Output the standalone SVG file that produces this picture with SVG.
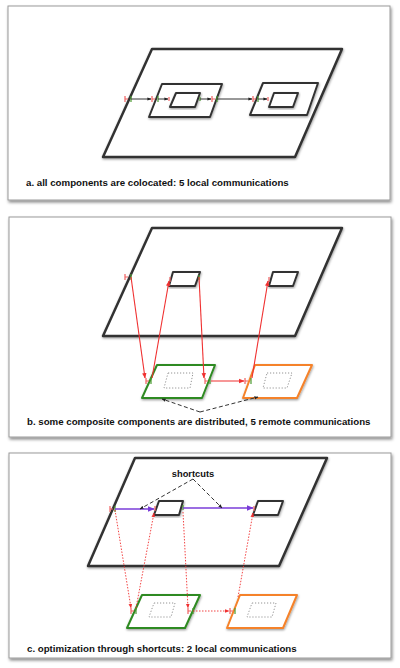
<svg xmlns="http://www.w3.org/2000/svg" width="400" height="668" viewBox="0 0 400 668">
<defs>
<filter id="fs" x="-5%" y="-5%" width="110%" height="115%"><feDropShadow dx="1" dy="2" stdDeviation="1.5" flood-color="#000" flood-opacity="0.45"/></filter>
<filter id="ss" x="-10%" y="-10%" width="120%" height="130%"><feDropShadow dx="0.5" dy="1.2" stdDeviation="1" flood-color="#000" flood-opacity="0.4"/></filter>
<marker id="ab" viewBox="0 0 10 10" refX="9" refY="5" markerWidth="4" markerHeight="4" orient="auto"><path d="M0,1 L10,5 L0,9 Z" fill="#222"/></marker>
<marker id="ar" viewBox="0 0 10 10" refX="9" refY="5" markerWidth="5" markerHeight="5" orient="auto"><path d="M0,1 L10,5 L0,9 Z" fill="#f03030"/></marker>
<marker id="ap" viewBox="0 0 10 10" refX="9" refY="5" markerWidth="4.5" markerHeight="4.5" orient="auto"><path d="M0,1 L10,5 L0,9 Z" fill="#7a3cd8"/></marker>
<style>
.frame{fill:#fff;stroke:#9a9a9a;stroke-width:1;filter:url(#fs)}
.big{fill:#fff;stroke:#333;stroke-width:2.5;stroke-linejoin:round;filter:url(#ss)}
.comp{fill:#fff;stroke:#333;stroke-width:2;stroke-linejoin:round;filter:url(#ss)}
.grn{fill:#fff;stroke:#2f8a22;stroke-width:2;stroke-linejoin:round;filter:url(#ss)}
.org{fill:#fff;stroke:#f5822a;stroke-width:2;stroke-linejoin:round;filter:url(#ss)}
.dot{fill:none;stroke:#888;stroke-width:0.9;stroke-dasharray:1.2 1.8}
.lb{stroke:#333;stroke-width:1;fill:none;marker-end:url(#ab)}
.lr{stroke:#f03030;stroke-width:1.1;fill:none;marker-end:url(#ar)}
.lrd{stroke:#f03030;stroke-width:0.9;fill:none;stroke-dasharray:1.5 1.5;marker-end:url(#ar)}
.lp{stroke:#7a3cd8;stroke-width:1.5;fill:none;marker-end:url(#ap)}
.ld{stroke:#333;stroke-width:1;fill:none;stroke-dasharray:4 2.5;marker-end:url(#ab)}
.pr{stroke:#f06060;stroke-width:1.2;fill:none}
.pg{stroke:#4a9a30;stroke-width:1.2;fill:none}
.t{font-family:"Liberation Sans",Arial,sans-serif;font-weight:bold;font-size:9.7px;fill:#111}
</style>
</defs>

<!-- Panel a -->
<g id="panel-a">
<rect class="frame" x="8" y="6" width="382" height="194"/>
<g id="a-host"><polygon class="big" points="152,49 342,49 295,157 103,157"/></g>
<g id="a-comp1"><polygon class="comp" points="162,84 222,84 210,117 149,117"/></g>
<g id="a-inner1"><polygon class="comp" points="176,93 200,93 195,107 170,107"/></g>
<g id="a-comp2"><polygon class="comp" points="263,83 318,83 307,115 250,115"/></g>
<g id="a-inner2"><polygon class="comp" points="274,93 298,93 293,107 269,107"/></g>
<g id="a-ports">
<path class="pr" d="M125,96 v6 M125,99 h3"/><path class="pg" d="M131,96 v6"/>
<path class="pr" d="M152,96 v6 M152,99 h3"/><path class="pg" d="M158,96 v6"/>
<path class="pr" d="M169,97 v4"/>
<path class="pg" d="M200,97 v4"/>
<path class="pr" d="M212,96 v6 M212,99 h3"/><path class="pg" d="M217,96 v6"/>
<path class="pr" d="M253,96 v6 M253,99 h3"/><path class="pg" d="M258,96 v6"/>
<path class="pr" d="M268,97 v4"/>
</g>
<g id="a-connectors">
<line class="lb" x1="131" y1="99" x2="151" y2="99"/>
<line class="lb" x1="158" y1="99" x2="168" y2="99"/>
<line class="lb" x1="200" y1="99" x2="211" y2="99"/>
<line class="lb" x1="217" y1="99" x2="252" y2="99"/>
<line class="lb" x1="258" y1="99" x2="267" y2="99"/>
</g>
<text class="t" x="26" y="186">a. all components are colocated: 5 local communications</text>
</g>

<!-- Panel b -->
<g id="panel-b">
<rect class="frame" x="9" y="217" width="382" height="220"/>
<g id="b-host"><polygon class="big" points="152,228 342,228 295,336 103,336"/></g>
<g id="b-box1"><polygon class="comp" points="173,272 200,272 195,286 169,286"/></g>
<g id="b-box2"><polygon class="comp" points="273,272 298,272 293,286 269,286"/></g>
<g id="b-green"><polygon class="grn" points="157,365 215,365 202,398 142,398"/><polygon class="dot" points="168,373 193,373 190,388 164,388"/></g>
<g id="b-orange"><polygon class="org" points="255,365 312,365 297,398 243,398"/><polygon class="dot" points="267,373 292,373 287,388 263,388"/></g>
<g id="b-ports">
<path class="pr" d="M125,274 v6 M125,277 h3"/><path class="pg" d="M131,274 v6"/>
<path class="pr" d="M170,277 v5"/><path class="pg" d="M199,275 v5"/>
<path class="pr" d="M269,277 v5"/>
<path class="pr" d="M146,378 v6 M146,381 h3"/><path class="pg" d="M151,378 v6"/>
<path class="pr" d="M205,378 v6 M205,381 h3"/><path class="pg" d="M210,378 v6"/>
<path class="pr" d="M245,378 v6 M245,381 h3"/><path class="pg" d="M251,378 v6"/>
</g>
<g id="b-connectors">
<line class="lr" x1="131" y1="277" x2="145" y2="378"/>
<line class="lr" x1="152" y1="378" x2="169" y2="281"/>
<line class="lr" x1="199" y1="277" x2="204" y2="378"/>
<line class="lr" x1="211" y1="381" x2="244" y2="381"/>
<line class="lr" x1="252" y1="378" x2="268" y2="281"/>
<line class="ld" x1="200" y1="412" x2="162" y2="399"/>
<line class="ld" x1="200" y1="412" x2="258" y2="397"/>
</g>
<text class="t" x="27" y="425">b. some composite components are distributed, 5 remote communications</text>
</g>

<!-- Panel c -->
<g id="panel-c">
<rect class="frame" x="9" y="453" width="382" height="205"/>
<g id="c-host"><polygon class="big" points="135,458 327,458 279,566 88,566"/></g>
<g id="c-box1"><polygon class="comp" points="159,501 183,501 179,515 154,515"/></g>
<g id="c-box2"><polygon class="comp" points="258,501 283,501 278,515 253,515"/></g>
<g id="c-green"><polygon class="grn" points="142,595 200,595 185,628 127,628"/><polygon class="dot" points="154,603 175,603 171,617 149,617"/></g>
<g id="c-orange"><polygon class="org" points="240,595 297,595 283,628 227,628"/><polygon class="dot" points="252,603 276,603 272,617 247,617"/></g>
<g id="c-ports">
<path class="pr" d="M110,506 v6 M110,509 h3"/><path class="pg" d="M115,506 v6"/>
<path class="pr" d="M155,506 v5"/><path class="pg" d="M183,505 v5"/>
<path class="pr" d="M254,506 v5"/>
<path class="pr" d="M131,608 v6 M131,611 h3"/><path class="pg" d="M136,608 v6"/>
<path class="pr" d="M188,608 v6 M188,611 h3"/><path class="pg" d="M193,608 v6"/>
<path class="pr" d="M230,608 v6 M230,611 h3"/><path class="pg" d="M235,608 v6"/>
</g>
<g id="c-connectors">
<line class="lrd" x1="115" y1="510" x2="131" y2="608"/>
<line class="lrd" x1="136" y1="608" x2="154" y2="513"/>
<line class="lrd" x1="183" y1="512" x2="188" y2="608"/>
<line class="lrd" x1="193" y1="611" x2="229" y2="611"/>
<line class="lrd" x1="238" y1="597" x2="253" y2="513"/>
<line class="lp" x1="115" y1="509" x2="154" y2="509"/>
<line class="lp" x1="183" y1="508" x2="253" y2="508"/>
<line class="ld" x1="193" y1="479" x2="140" y2="509"/>
<line class="ld" x1="193" y1="479" x2="222" y2="508"/>
</g>
<text class="t" x="193" y="477" text-anchor="middle" style="font-size:9.3px">shortcuts</text>
<text class="t" x="27" y="652">c. optimization through shortcuts: 2 local communications</text>
</g>
</svg>
